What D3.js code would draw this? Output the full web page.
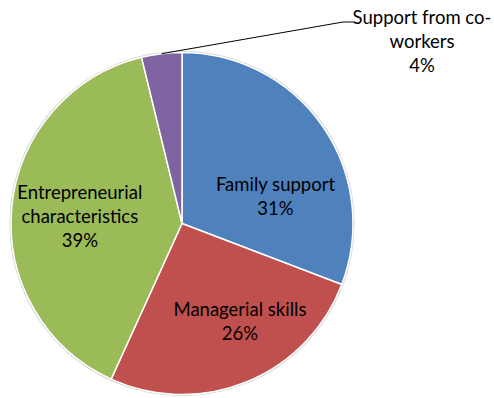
<!DOCTYPE html>
<html>
<head>
<meta charset="utf-8">
<script src="https://cdn.jsdelivr.net/npm/d3@7"></script>
<style>
  body { margin: 0; background: #fff; }
  svg text { font-family: Lato, "Open Sans", sans-serif; font-size: 18.5px; fill: #000; }
</style>
</head>
<body>
<div id="chart"></div>
<script>
var width = 494,
  height = 398;

// slice data
var categories = ["Family support", "Managerial skills", "Entrepreneurial characteristics", "Support from co-workers"];
var values = [30.8, 26.0, 39.4, 3.8];
var colors = ["#4F81BD", "#C0504D", "#9BBB59", "#8064A2"];

var cx = 182, cy = 223.5, radius = 171;

var svg = d3.select("#chart")
  .append("svg")
  .attr("width", width)
  .attr("height", height);

var data = categories.map(function (c, i) {
  return { name: c, value: values[i], color: colors[i] };
});

var pie = d3.pie()
  .sort(null)
  .value(function (d) { return d.value; });

var arcs = pie(data);

var arc = d3.arc().innerRadius(0).outerRadius(radius);
var labelArc = d3.arc().innerRadius(radius * 0.6).outerRadius(radius * 0.6);

var g = svg.append("g").attr("transform", "translate(" + cx + "," + cy + ")");

// faint shadow ring like excel
g.append("circle")
  .attr("r", radius + 1)
  .attr("fill", "none")
  .attr("stroke", "#d9d9d9")
  .attr("stroke-width", 1.5);

g.selectAll("path.slice")
  .data(arcs)
  .enter().append("path")
  .attr("class", "slice")
  .attr("d", arc)
  .attr("fill", function (d) { return d.data.color; })
  .attr("stroke", "#fff")
  .attr("stroke-width", 1.5);

// line breaks for labels
var labelLines = {
  "Family support": ["Family support"],
  "Managerial skills": ["Managerial skills"],
  "Entrepreneurial characteristics": ["Entrepreneurial", "characteristics"],
  "Support from co-workers": ["Support from co-", "workers"]
};
// small layout nudges for the inside labels
var nudge = [[9, 32], [19, 4], [0, 3]];

var lineH = 24;

arcs.forEach(function (d, i) {
  var pct = Math.round(d.data.value) + "%";
  var lines = labelLines[d.data.name].concat([pct]);
  var x, y;
  if (i < 3) {
    var c = labelArc.centroid(d);
    x = cx + c[0] + nudge[i][0];
    y = cy + c[1] + nudge[i][1];
  } else {
    // outside label with leader line
    var mid = (d.startAngle + d.endAngle) / 2;
    var ex = cx + Math.sin(mid) * radius,
      ey = cy - Math.cos(mid) * radius;
    x = 422; y = 42;
    svg.append("polyline")
      .attr("points", [[ex, ey], [343, 22], [353, 22]].map(function (p) { return p.join(","); }).join(" "))
      .attr("fill", "none")
      .attr("stroke", "#000")
      .attr("stroke-width", 1);
  }
  var t = svg.append("text")
    .attr("text-anchor", "middle");
  lines.forEach(function (l, k) {
    t.append("tspan")
      .attr("x", x)
      .attr("y", y + (k - (lines.length - 1) / 2) * lineH + 6)
      .text(l);
  });
});
</script>
</body>
</html>
